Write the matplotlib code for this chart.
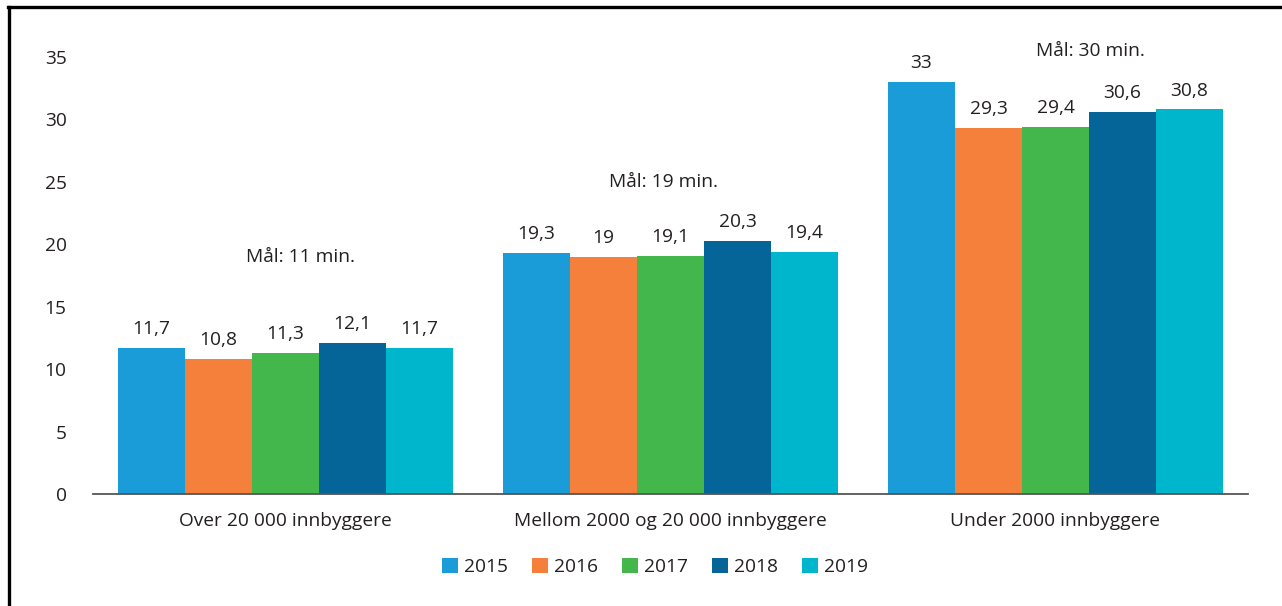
import matplotlib
matplotlib.use("Agg")
import matplotlib.pyplot as plt
from matplotlib.patches import Patch
from matplotlib.lines import Line2D
import numpy as np

categories = ["Over 20 000 innbyggere", "Mellom 2000 og 20 000 innbyggere", "Under 2000 innbyggere"]
years = ["2015", "2016", "2017", "2018", "2019"]
values = {
    "2015": [11.7, 19.3, 33.0],
    "2016": [10.8, 19.0, 29.3],
    "2017": [11.3, 19.1, 29.4],
    "2018": [12.1, 20.3, 30.6],
    "2019": [11.7, 19.4, 30.8],
}
value_labels = {
    "2015": ["11,7", "19,3", "33"],
    "2016": ["10,8", "19", "29,3"],
    "2017": ["11,3", "19,1", "29,4"],
    "2018": ["12,1", "20,3", "30,6"],
    "2019": ["11,7", "19,4", "30,8"],
}
goal_labels = ["Mål: 11 min.", "Mål: 19 min.", "Mål: 30 min."]
goal_pos = [(0.038, 18.95), (0.983, 24.95), (2.09, 35.45)]
yticks = [0, 5, 10, 15, 20, 25, 30, 35]
colors = ["#1a9cd8", "#f4803c", "#43b74c", "#066598", "#00b6cc"]

plt.rcParams['font.family'] = ['Open Sans', 'DejaVu Sans']
text_color = "#231f20"
fs = 13.8

fig = plt.figure(figsize=(12.82, 6.06), dpi=100)
ax = fig.add_axes([93/1282, 1-494/606, (1248-93)/1282, (494-57)/606])

n = len(years)
group_w = 0.87
bw = group_w / n
x = np.arange(len(categories))
for i, y in enumerate(years):
    pos = x - group_w/2 + bw*(i+0.5)
    ax.bar(pos, values[y], width=bw, color=colors[i], label=y, edgecolor='none')
    for px, v, lab in zip(pos, values[y], value_labels[y]):
        ax.annotate(lab, (px, v), xytext=(0, 7), textcoords='offset points',
                    ha='center', va='bottom', fontsize=fs, color=text_color)

for lab, (gx, gy) in zip(goal_labels, goal_pos):
    ax.text(gx, gy, lab, ha='center', va='center', fontsize=fs, color=text_color, clip_on=False)

ax.set_xlim(-0.5, 2.5)
ax.set_ylim(0, 35)
ax.set_yticks(yticks)
ax.set_yticklabels([str(t) for t in yticks])
ax.set_xticks(x)
ax.set_xticklabels(categories)
for s in ['top', 'right', 'left']:
    ax.spines[s].set_visible(False)
ax.spines['bottom'].set_color('#555555')
ax.spines['bottom'].set_linewidth(1.3)
ax.tick_params(axis='y', length=0, pad=19, labelsize=fs, labelcolor=text_color)
ax.tick_params(axis='x', length=0, pad=13, labelsize=fs, labelcolor=text_color)

handles = [Patch(facecolor=c, edgecolor='none') for c in colors]
fig.legend(handles, years, loc='center', bbox_to_anchor=(0.511, 1-567/606), ncol=5,
           frameon=False, fontsize=fs, handlelength=0.85, handleheight=0.85,
           columnspacing=1.25, handletextpad=0.3, labelcolor=text_color)

# frame lines (top and left)
fig.add_artist(Line2D([9/1282, 9/1282], [0, 1-7/606], transform=fig.transFigure, color='black', lw=2.4))
fig.add_artist(Line2D([8/1282, 1], [1-7/606, 1-7/606], transform=fig.transFigure, color='black', lw=2.4))

fig.savefig("out.png", dpi=100)
